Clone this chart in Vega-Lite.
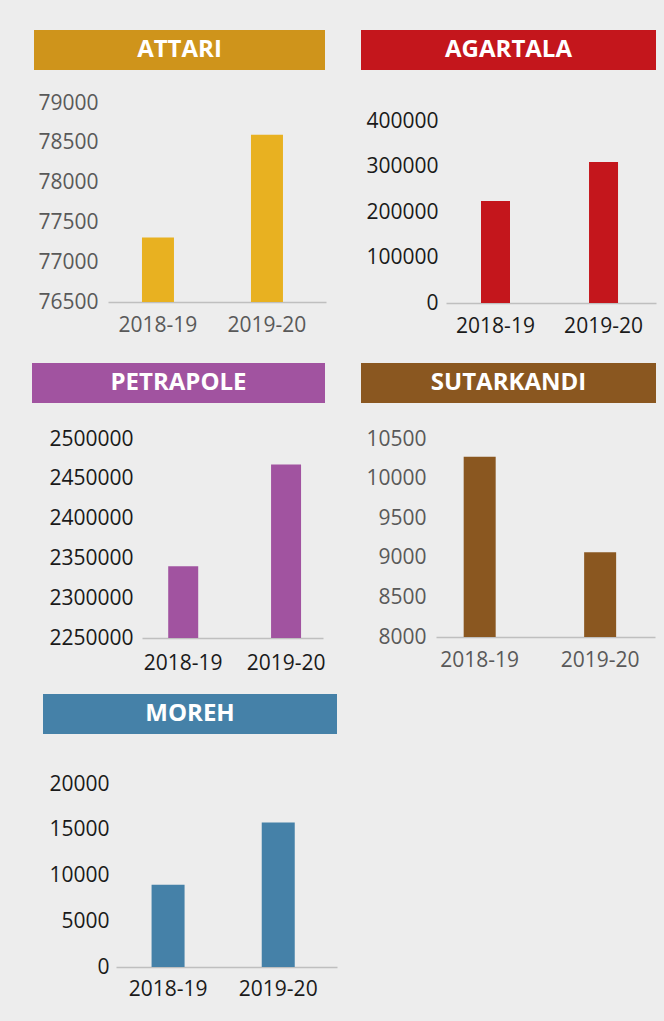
{
  "$schema": "https://vega.github.io/schema/vega-lite/v6.json",
  "background": "#ededed",
  "padding": {"left": 32, "top": 30, "right": 8, "bottom": 27},
  "config": {
    "font": "Open Sans",
    "view": {"stroke": null},
    "axis": {"ticks": false, "tickSize": 0, "grid": false, "labelFontSize": 21, "labelFont": "Open Sans", "title": null, "minExtent": 0},
    "axisX": {"domainColor": "#BFBFBF", "domainWidth": 1.5, "labelAngle": 0},
    "axisY": {"domain": false, "format": "d", "labelAlign": "right"},
    "text": {"color": "white", "fontSize": 24, "fontWeight": "bold", "font": "Open Sans"},
    "bar": {"clip": true}
  },
  "spacing": 21,
  "vconcat": [
    {
      "spacing": 27,
      "vconcat": [
        {
          "spacing": 1,
          "hconcat": [
            {"data": {"values": []}, "mark": "point", "width": 1, "height": 1},
            {
              "spacing": 35,
              "hconcat": [
                {
                  "spacing": 22,
                  "vconcat": [
                    {"data": {"values": [{"port": "ATTARI"}]}, "width": 291, "height": 40, "view": {"fill": "#CF941B", "stroke": null}, "mark": "text", "encoding": {"text": {"field": "port"}}},
                    {
                      "data": {"values": [{"year": "2018-19", "value": 77310}, {"year": "2019-20", "value": 78600}]},
                      "width": 292, "height": 199,
                      "mark": {"type": "bar", "width": 32, "color": "#E8B121", "clip": true},
                      "encoding": {
                        "x": {"field": "year", "type": "nominal", "title": null, "scale": {"range": [74, 292], "paddingInner": 0.5, "paddingOuter": 0.25, "align": 0.417}, "axis": {"labelPadding": 12, "labelColor": "#595959"}},
                        "y": {"field": "value", "type": "quantitative", "title": null, "scale": {"domain": [76500, 79000], "nice": false, "zero": false}, "axis": {"values": [76500, 77000, 77500, 78000, 78500, 79000], "labelColor": "#595959", "labelPadding": -64}}
                      }
                    }
                  ]
                },
                {
                  "spacing": 40,
                  "vconcat": [
                    {"data": {"values": [{"port": "AGARTALA"}]}, "width": 295, "height": 40, "view": {"fill": "#C4161C", "stroke": null}, "mark": "text", "encoding": {"text": {"field": "port"}}},
                    {
                      "data": {"values": [{"year": "2018-19", "value": 224000}, {"year": "2019-20", "value": 310000}]},
                      "width": 295, "height": 182,
                      "mark": {"type": "bar", "width": 29, "color": "#C4161C", "clip": true},
                      "encoding": {
                        "x": {"field": "year", "type": "nominal", "title": null, "scale": {"range": [85, 295], "paddingInner": 0.5, "paddingOuter": 0.222, "align": 0.469}, "axis": {"labelPadding": 12, "labelColor": "#1a1a1a"}},
                        "y": {"field": "value", "type": "quantitative", "title": null, "scale": {"domain": [0, 400000], "nice": false}, "axis": {"values": [0, 100000, 200000, 300000, 400000], "labelColor": "#1a1a1a", "labelPadding": -77}}
                      }
                    }
                  ]
                }
              ]
            }
          ]
        },
        {
          "spacing": 36,
          "hconcat": [
            {
              "spacing": 25,
              "vconcat": [
                {"data": {"values": [{"port": "PETRAPOLE"}]}, "width": 293, "height": 40, "view": {"fill": "#A153A0", "stroke": null}, "mark": "text", "encoding": {"text": {"field": "port"}}},
                {
                  "data": {"values": [{"year": "2018-19", "value": 2340000}, {"year": "2019-20", "value": 2468000}]},
                  "width": 293, "height": 199,
                  "mark": {"type": "bar", "width": 30, "color": "#A153A0", "clip": true},
                  "encoding": {
                    "x": {"field": "year", "type": "nominal", "title": null, "scale": {"range": [110, 291], "paddingInner": 0.5, "paddingOuter": 0.13, "align": 0.58}, "axis": {"labelPadding": 14, "labelColor": "#1a1a1a"}},
                    "y": {"field": "value", "type": "quantitative", "title": null, "scale": {"domain": [2250000, 2500000], "nice": false, "zero": false}, "axis": {"values": [2250000, 2300000, 2350000, 2400000, 2450000, 2500000], "labelColor": "#1a1a1a", "labelPadding": -101}}
                  }
                }
              ]
            },
            {
              "spacing": 25,
              "vconcat": [
                {"data": {"values": [{"port": "SUTARKANDI"}]}, "width": 295, "height": 40, "view": {"fill": "#8A5720", "stroke": null}, "mark": "text", "encoding": {"text": {"field": "port"}}},
                {
                  "data": {"values": [{"year": "2018-19", "value": 10275}, {"year": "2019-20", "value": 9070}]},
                  "width": 295, "height": 198,
                  "mark": {"type": "bar", "width": 32, "color": "#8A5720", "clip": true},
                  "encoding": {
                    "x": {"field": "year", "type": "nominal", "title": null, "scale": {"range": [75, 294], "paddingInner": 0.5, "paddingOuter": 0.159, "align": 0.354}, "axis": {"labelPadding": 12, "labelColor": "#595959"}},
                    "y": {"field": "value", "type": "quantitative", "title": null, "scale": {"domain": [8000, 10500], "nice": false, "zero": false}, "axis": {"values": [8000, 8500, 9000, 9500, 10000, 10500], "labelColor": "#595959", "labelPadding": -65}}
                  }
                }
              ]
            }
          ]
        }
      ]
    },
    {
      "spacing": 10,
      "hconcat": [
        {"data": {"values": []}, "mark": "point", "width": 1, "height": 1},
        {
          "spacing": 39,
          "vconcat": [
            {"data": {"values": [{"port": "MOREH"}]}, "width": 294, "height": 40, "view": {"fill": "#4581A8", "stroke": null}, "mark": "text", "encoding": {"text": {"field": "port"}}},
            {
              "data": {"values": [{"year": "2018-19", "value": 9000}, {"year": "2019-20", "value": 15800}]},
              "width": 294, "height": 183,
              "mark": {"type": "bar", "width": 33, "color": "#4581A8", "clip": true},
              "encoding": {
                "x": {"field": "year", "type": "nominal", "title": null, "scale": {"range": [73, 294], "paddingInner": 0.5, "paddingOuter": 0.253, "align": 0.44}, "axis": {"labelPadding": 11, "labelColor": "#1a1a1a"}},
                "y": {"field": "value", "type": "quantitative", "title": null, "scale": {"domain": [0, 20000], "nice": false}, "axis": {"values": [0, 5000, 10000, 15000, 20000], "labelColor": "#1a1a1a", "labelPadding": -66}}
              }
            }
          ]
        }
      ]
    }
  ]
}
